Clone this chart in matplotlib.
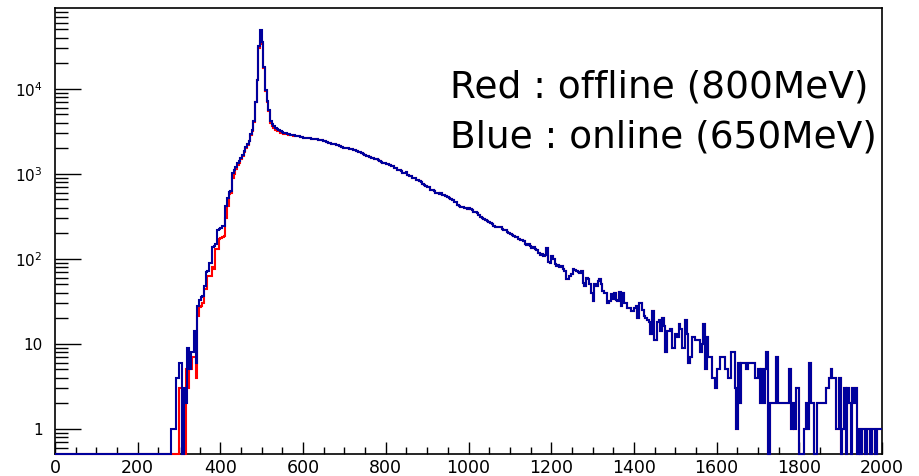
import numpy as np
import matplotlib
matplotlib.use("Agg")
import matplotlib.pyplot as plt
from matplotlib.ticker import FixedLocator, FixedFormatter, MultipleLocator, LogLocator, NullFormatter

# Histogram binning (MeV)
X_MIN, X_MAX = 0, 2000
BIN_WIDTH = 4
FIRST_FILLED = 280          # all bins below this edge are empty

# Online (650 MeV threshold) counts, bins from 280 MeV upward, 25 bins per row
blue_counts = [
    1, 1, 1, 4, 4, 6, 6, 0, 3, 2, 9, 5, 8, 8, 14, 6, 28, 33, 35, 36, 48, 70, 72, 88, 90,                      # 280-376
    138, 140, 150, 218, 225, 228, 240, 240, 420, 514, 614, 620, 1010, 1100, 1200,
    1325, 1400, 1550, 1660, 1850, 2080, 2250, 2450, 2930, 3300,                                                # 380-476
    4200, 7000, 12700, 32000, 49000, 35500, 18100, 9750, 7200, 5650, 4200, 3850, 3600, 3450, 3350,
    3250, 3150, 3120, 3040, 3000, 2970, 2930, 2890, 2860, 2840,                                                # 480-576
    2800, 2790, 2740, 2720, 2700, 2660, 2650, 2640, 2610, 2600, 2580, 2570, 2560, 2540, 2520,
    2480, 2470, 2420, 2400, 2370, 2320, 2300, 2260, 2240, 2230,                                                # 580-676
    2180, 2160, 2120, 2080, 2030, 2000, 1990, 1980, 1960, 1930, 1900, 1880, 1840, 1820, 1790,
    1740, 1700, 1670, 1600, 1610, 1560, 1540, 1530, 1490, 1470,                                                # 680-776
    1440, 1420, 1390, 1340, 1320, 1290, 1300, 1250, 1230, 1240, 1180, 1170, 1120, 1100, 1080,
    1030, 1010, 1040, 970, 940, 930, 900, 880, 850, 840,                                                       # 780-876
    810, 790, 760, 740, 720, 700, 690, 650, 640, 620, 600, 590, 580, 590, 560,
    555, 550, 530, 515, 505, 490, 470, 460, 430, 420,                                                          # 880-976
    410, 405, 400, 395, 385, 395, 380, 370, 355, 350, 345, 330, 310, 300, 290,
    285, 275, 270, 262, 255, 240, 238, 236, 238, 235,                                                          # 980-1076
    225, 215, 220, 205, 200, 195, 190, 185, 178, 180, 170, 165, 166, 160, 150,
    145, 150, 140, 135, 138, 130, 125, 118, 112, 114,                                                          # 1080-1176
    108, 110, 132, 92, 90, 108, 98, 86, 82, 84, 80, 82, 76, 72, 57, 58, 62, 66, 75, 74, 72, 70, 68, 72, 52,     # 1180-1276
    48, 60, 58, 50, 40, 32, 50, 48, 55, 58, 50, 42, 40, 40, 30, 32, 38, 34, 40, 33, 32, 41, 28, 40, 30,        # 1280-1376
    30, 26, 26, 24, 24, 26, 28, 20, 30, 30, 25, 21, 20, 19, 18, 13, 24, 11, 11, 18, 19, 14, 20, 16, 8,         # 1380-1476
    14, 14, 15, 9, 9, 13, 12, 17, 15, 9, 9, 19, 13, 6, 7, 12, 12, 11, 11, 11, 8, 10, 17, 5, 12,                # 1480-1576
    7, 7, 4, 4, 3, 5, 5, 7, 7, 7, 5, 5, 4, 4, 8, 8, 3, 1, 6, 2, 6, 6, 6, 5, 6,                                 # 1580-1676
    6, 6, 6, 4, 4, 5, 2, 5, 2, 5, 8, 0, 2, 2, 2, 2, 7, 2, 2, 2, 2, 2, 2, 2, 5,                                 # 1680-1776
    1, 2, 1, 3, 3, 0, 0, 0, 1, 2, 1, 6, 2, 2, 0, 0, 2, 2, 2, 2, 2, 3, 3, 4, 5,                                 # 1780-1876
    4, 4, 1, 1, 4, 0, 1, 3, 0, 3, 2, 0, 3, 2, 3, 0, 1, 0, 1, 1, 0, 1, 1, 0, 1,                                 # 1880-1976
    1, 0, 1, 1, 1,                                                                                             # 1980-1996
]

# Offline (800 MeV threshold) counts where they differ from online: 280-576 MeV
red_counts_low = [
    0, 0, 0, 0, 0, 3, 3, 0, 0, 5, 3, 5, 5, 7, 7, 4, 21, 27, 28, 30, 44, 44, 62, 62, 62,                        # 280-376
    80, 75, 130, 130, 170, 175, 180, 185, 300, 420, 580, 600, 900, 1000, 1150,
    1250, 1350, 1500, 1600, 1800, 2000, 2200, 2400, 2850, 3200,                                                # 380-476
    4100, 6900, 12500, 30000, 36000, 34000, 17500, 9500, 7000, 5400, 4000, 3650, 3450, 3300, 3200,
    3150, 3050, 3030, 2960, 2950, 2920, 2890, 2850, 2830, 2810,                                                # 480-576
]

y_tick_values = [1, 10, 100, 1000, 10000]
y_tick_labels = ["1", "10", r"$\mathregular{10^{2}}$", r"$\mathregular{10^{3}}$", r"$\mathregular{10^{4}}$"]
x_tick_values = [0, 200, 400, 600, 800, 1000, 1200, 1400, 1600, 1800, 2000]

legend_lines = ["Red : offline (800MeV)", "Blue : online (650MeV)"]

Y_MIN, Y_MAX = 0.508, 8.9e4

plt.rcParams["mathtext.fontset"] = "custom"
plt.rcParams["mathtext.rm"] = "DejaVu Sans"
plt.rcParams["font.family"] = ["DejaVu Sans"]

edges = np.arange(X_MIN, X_MAX + BIN_WIDTH, BIN_WIDTH)
n_bins = len(edges) - 1
i0 = FIRST_FILLED // BIN_WIDTH

blue_full = np.zeros(n_bins)
blue_full[i0:i0 + len(blue_counts)] = blue_counts
red_full = blue_full.copy()
red_full[i0:i0 + len(red_counts_low)] = red_counts_low

W, H = 919, 476
fig = plt.figure(figsize=(W / 100, H / 100), dpi=100)
ax = fig.add_axes([55 / W, 1 - 453.7 / H, (882 - 55) / W, (453.7 - 8) / H])

ax.set_yscale("log")
ax.set_xlim(X_MIN, X_MAX)
ax.set_ylim(Y_MIN, Y_MAX)

# empty bins sit on the bottom of the frame, as on a log-scale histogram
red_plot = np.where(red_full > 0, red_full, Y_MIN)
blue_plot = np.where(blue_full > 0, blue_full, Y_MIN)
ax.stairs(red_plot, edges, baseline=None, color="#ff0000", lw=1.5, zorder=3, clip_on=False)
ax.stairs(blue_plot, edges, baseline=None, color="#00009c", lw=1.5, zorder=4, clip_on=False)

for s in ax.spines.values():
    s.set_linewidth(1.2)
    s.set_color("black")

ax.xaxis.set_major_locator(FixedLocator(x_tick_values))
ax.xaxis.set_minor_locator(MultipleLocator(50))
ax.yaxis.set_major_locator(FixedLocator(y_tick_values))
ax.yaxis.set_major_formatter(FixedFormatter(y_tick_labels))
ax.yaxis.set_minor_locator(LogLocator(base=10, subs=np.arange(2, 10), numticks=20))
ax.yaxis.set_minor_formatter(NullFormatter())

ax.tick_params(axis="both", which="both", direction="in", top=False, right=False, width=1.0, color="black")
ax.tick_params(axis="y", which="major", length=18.5, pad=9, labelsize=11)
ax.tick_params(axis="y", which="minor", length=9.3)
ax.tick_params(axis="x", which="major", length=9, pad=3.5, labelsize=12.5)
ax.tick_params(axis="x", which="minor", length=4.8)

for line_text, baseline_px in zip(legend_lines, (97.5, 147.5)):
    fig.text(450 / W, 1 - baseline_px / H, line_text, family="DejaVu Sans", fontsize=27,
             ha="left", va="baseline", color="black")

fig.savefig("out.png", dpi=100)
